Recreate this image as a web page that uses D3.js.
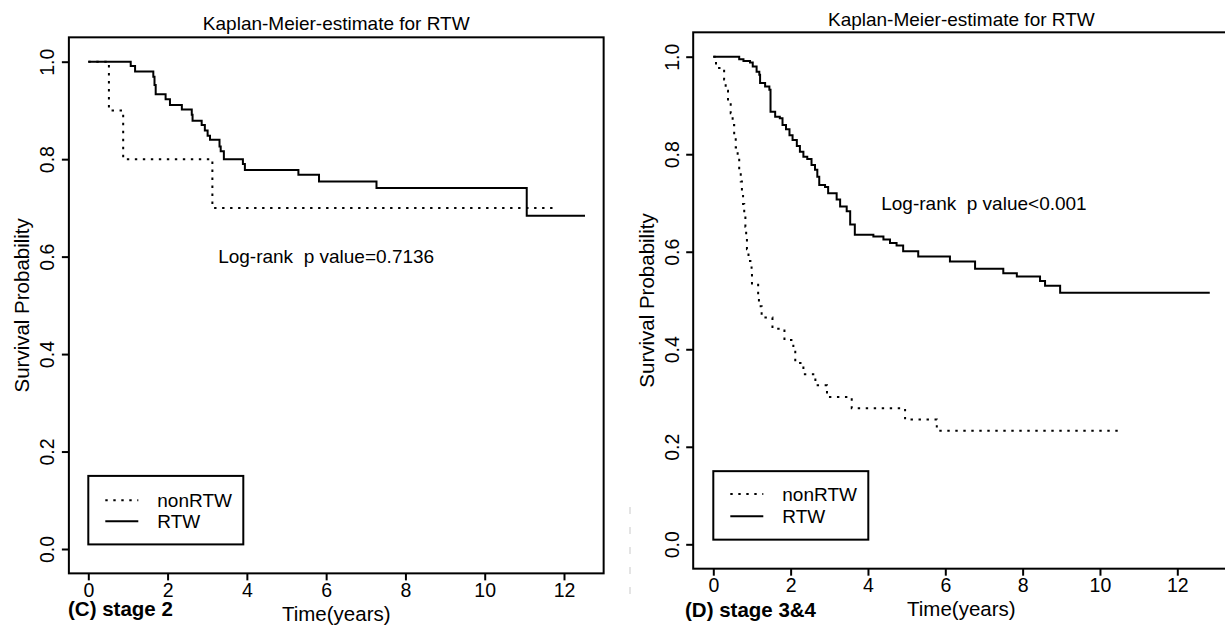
<!DOCTYPE html>
<html>
<head>
<meta charset="utf-8">
<script src="https://cdn.jsdelivr.net/npm/d3@7"></script>
<style>
  html, body { margin: 0; padding: 0; background: #fff; }
  svg { display: block; }
  text { font-family: "Liberation Sans", Arial, sans-serif; fill: #000; }
</style>
</head>
<body>
<svg id="chart" width="1225" height="626"></svg>
<script>
// ---------------- data ----------------
const xTickValues = [0, 2, 4, 6, 8, 10, 12];
const yTickValues = [0, 0.2, 0.4, 0.6, 0.8, 1.0];
const seriesNames = ["nonRTW", "RTW"];

// Panel C: stage 2
const cNonRtwTime = [0, 0.52, 0.88, 3.13, 11.73];
const cNonRtwSurv = [1, 0.9, 0.8, 0.7, 0.7];
const cRtwTime = [0, 1.07, 1.18, 1.64, 1.67, 1.70, 1.95, 2.06, 2.36, 2.61, 2.63, 2.86, 2.94, 3.01, 3.07, 3.31, 3.34, 3.42, 3.90, 3.95, 5.30, 5.82, 7.27, 11.06, 12.53];
const cRtwSurv = [1, 0.991, 0.980, 0.969, 0.952, 0.933, 0.923, 0.911, 0.902, 0.891, 0.879, 0.870, 0.859, 0.848, 0.840, 0.826, 0.816, 0.800, 0.790, 0.778, 0.768, 0.754, 0.741, 0.684, 0.684];

// Panel D: stage 3&4
const dNonRtwTime = [0, 0.07, 0.28, 0.32, 0.38, 0.45, 0.50, 0.54, 0.58, 0.63, 0.67, 0.71, 0.74, 0.77, 0.80, 0.83, 0.85, 0.87, 0.91, 0.99, 1.00, 1.16, 1.18, 1.25, 1.53, 1.84, 2.07, 2.12, 2.33, 2.64, 2.94, 3.58, 4.96, 5.78, 10.47];
const dNonRtwSurv = [1, 0.977, 0.953, 0.930, 0.907, 0.884, 0.860, 0.837, 0.814, 0.791, 0.767, 0.744, 0.721, 0.698, 0.674, 0.651, 0.628, 0.605, 0.581, 0.558, 0.535, 0.512, 0.488, 0.465, 0.442, 0.419, 0.395, 0.372, 0.349, 0.326, 0.302, 0.279, 0.256, 0.233, 0.233];
const dRtwTime = [0, 0.67, 0.78, 0.95, 1.02, 1.12, 1.19, 1.21, 1.34, 1.45, 1.48, 1.60, 1.72, 1.79, 1.88, 1.97, 2.05, 2.16, 2.24, 2.33, 2.43, 2.54, 2.63, 2.69, 2.74, 2.89, 2.97, 3.19, 3.28, 3.45, 3.54, 3.66, 4.14, 4.40, 4.57, 4.74, 4.91, 5.30, 6.12, 6.77, 7.50, 7.85, 8.45, 8.58, 8.97, 12.84];
const dRtwSurv = [1, 0.995, 0.991, 0.988, 0.980, 0.969, 0.963, 0.946, 0.939, 0.932, 0.887, 0.877, 0.874, 0.860, 0.851, 0.839, 0.829, 0.817, 0.805, 0.795, 0.790, 0.778, 0.768, 0.754, 0.737, 0.733, 0.720, 0.707, 0.693, 0.683, 0.656, 0.635, 0.631, 0.625, 0.618, 0.613, 0.601, 0.590, 0.580, 0.565, 0.556, 0.549, 0.540, 0.530, 0.516, 0.516];

const titleText = "Kaplan-Meier-estimate for RTW";
const xLabelText = "Time(years)";
const yLabelText = "Survival Probability";

// ---------------- layout ----------------
const panels = [
  {
    px0: 88.3, px12: 564, py0: 549, py1: 61.7,
    xLo: -0.49, xHi: 13.0,
    titleY: 30,
    pText: "Log-rank  p value=0.7136", pAt: [6, 0.6],
    tag: "(C) stage 2", tagX: 68, tagY: 615.5,
    legendLineDy: [24.3, 45.3],
    nonTime: cNonRtwTime, nonSurv: cNonRtwSurv,
    rtwTime: cRtwTime, rtwSurv: cRtwSurv
  },
  {
    px0: 713.3, px12: 1177.3, py0: 544.3, py1: 56.7,
    xLo: -0.52, xHi: 13.35,
    titleY: 26,
    pText: "Log-rank  p value<0.001", pAt: [7, 0.7],
    tag: "(D) stage 3&4", tagX: 685, tagY: 617,
    legendLineDy: [22.8, 45.0],
    nonTime: dNonRtwTime, nonSurv: dNonRtwSurv,
    rtwTime: dRtwTime, rtwSurv: dRtwSurv
  }
];

const svg = d3.select("#chart");
svg.append("rect").attr("width", 1225).attr("height", 626).attr("fill", "#fff");

// faint scanning artefact between the panels
svg.append("line")
  .attr("x1", 630).attr("x2", 630).attr("y1", 507).attr("y2", 603)
  .attr("stroke", "#e4e4e4").attr("stroke-width", 2)
  .attr("stroke-dasharray", "7 13");

const DOT = "2.4 5.6";

panels.forEach(p => {
  const x = d3.scaleLinear().domain([0, 12]).range([p.px0, p.px12]);
  const y = d3.scaleLinear().domain([0, 1]).range([p.py0, p.py1]);
  const left = x(p.xLo), right = x(p.xHi);
  const top = y(1.05), bottom = y(-0.05);
  const g = svg.append("g");

  // curves
  const line = d3.line().x(d => x(d[0])).y(d => y(d[1])).curve(d3.curveStepAfter);
  const nonData = p.nonTime.map((t, i) => [t, p.nonSurv[i]]);
  const rtwData = p.rtwTime.map((t, i) => [t, p.rtwSurv[i]]);
  g.append("path").datum(nonData).attr("d", line)
    .attr("fill", "none").attr("stroke", "#000").attr("stroke-width", 2)
    .attr("stroke-dasharray", DOT);
  g.append("path").datum(rtwData).attr("d", line)
    .attr("fill", "none").attr("stroke", "#000").attr("stroke-width", 2);

  // frame
  g.append("rect").attr("x", left).attr("y", top)
    .attr("width", right - left).attr("height", bottom - top)
    .attr("fill", "none").attr("stroke", "#000").attr("stroke-width", 2);

  // x axis
  const gx = g.append("g").attr("transform", `translate(0,${bottom})`)
    .call(d3.axisBottom(x).tickValues(xTickValues).tickSize(7).tickFormat(d3.format("d")));
  gx.select(".domain").remove();
  gx.selectAll(".tick line").attr("stroke", "#000").attr("stroke-width", 2);
  gx.selectAll(".tick text")
    .attr("y", 23.8).attr("dy", 0)
    .attr("font-size", 19.5).attr("font-family", "Liberation Sans, Arial, sans-serif")
    .attr("fill", "#000");

  // y axis
  const gy = g.append("g").attr("transform", `translate(${left},0)`)
    .call(d3.axisLeft(y).tickValues(yTickValues).tickSize(7).tickFormat(d3.format(".1f")));
  gy.select(".domain").remove();
  gy.selectAll(".tick line").attr("stroke", "#000").attr("stroke-width", 2);
  gy.selectAll(".tick text")
    .attr("x", 0).attr("y", -14.5).attr("dy", 0)
    .attr("transform", "rotate(-90)")
    .attr("text-anchor", "middle")
    .attr("font-size", 19.5).attr("font-family", "Liberation Sans, Arial, sans-serif")
    .attr("fill", "#000");

  const cx = (left + right) / 2, cy = (top + bottom) / 2;

  // title
  g.append("text").attr("x", cx).attr("y", p.titleY)
    .attr("text-anchor", "middle").attr("font-size", 19)
    .text(titleText);

  // axis labels
  g.append("text").attr("x", cx).attr("y", bottom + 47.5)
    .attr("text-anchor", "middle").attr("font-size", 20.5)
    .text(xLabelText);
  g.append("text")
    .attr("transform", `translate(${left - 39.5},${cy}) rotate(-90)`)
    .attr("text-anchor", "middle").attr("font-size", 20.5)
    .text(yLabelText);

  // log-rank annotation
  g.append("text").attr("x", x(p.pAt[0])).attr("y", y(p.pAt[1]))
    .attr("dy", "0.36em").attr("text-anchor", "middle").attr("font-size", 19)
    .style("white-space", "pre").attr("xml:space", "preserve")
    .text(p.pText);

  // panel tag
  g.append("text").attr("x", p.tagX).attr("y", p.tagY)
    .attr("font-size", 20.5).attr("font-weight", "bold")
    .text(p.tag);

  // legend
  const lx = x(0), ly = y(0.15);
  const lg = g.append("g");
  lg.append("rect").attr("x", lx).attr("y", ly).attr("width", 155).attr("height", 68.5)
    .attr("fill", "#fff").attr("stroke", "#000").attr("stroke-width", 2);
  seriesNames.forEach((name, i) => {
    const yy = ly + p.legendLineDy[i];
    lg.append("line").attr("x1", lx + 17).attr("x2", lx + 50).attr("y1", yy).attr("y2", yy)
      .attr("stroke", "#000").attr("stroke-width", 2)
      .attr("stroke-dasharray", i === 0 ? DOT : null);
    lg.append("text").attr("x", lx + 69).attr("y", yy + 6.6)
      .attr("font-size", 19).text(name);
  });
});
</script>
</body>
</html>
